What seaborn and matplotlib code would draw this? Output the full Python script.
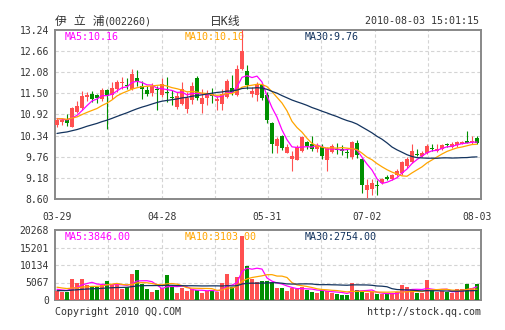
import numpy as np
import pandas as pd
import matplotlib
matplotlib.use("Agg")
import matplotlib.pyplot as plt
import seaborn as sns

# ---- daily bars, 2010-03-29 .. 2010-08-03 -------------------------------
open_ = [10.64, 10.71, 10.76, 10.59, 10.98, 11.10, 11.39, 11.48, 11.46, 11.35,
         11.60, 11.46, 11.62, 11.79, 11.74, 11.62, 11.92, 11.70, 11.58, 11.51,
         11.62, 11.46, 11.54, 11.40, 11.12, 11.20, 11.08, 11.31, 11.92, 11.22,
         11.37, 11.49, 11.28, 11.22, 11.40, 11.65, 11.45, 12.18, 12.11, 11.49,
         11.45, 11.72, 11.45, 10.69, 10.05, 10.34, 9.87, 9.71, 9.66, 9.93,
         10.16, 10.10, 9.98, 10.02, 9.66, 9.89, 9.96, 9.95, 9.87, 9.74,
         10.14, 9.69, 8.85, 8.88, 8.99, 9.03, 9.20, 9.15, 9.25, 9.32,
         9.50, 9.61, 9.84, 9.78, 9.87, 10.00, 9.91, 9.98, 10.11, 10.03,
         10.07, 10.12, 10.17, 10.16, 10.28]
high = [10.82, 10.82, 10.94, 11.12, 11.28, 11.56, 11.53, 11.57, 11.48, 11.65,
        11.62, 11.80, 11.88, 11.94, 11.92, 12.17, 12.13, 11.83, 11.69, 11.78,
        11.71, 11.91, 11.95, 11.58, 11.54, 11.80, 11.54, 11.80, 11.98, 11.63,
        11.58, 11.65, 11.43, 11.63, 11.89, 12.00, 12.29, 13.30, 12.29, 11.68,
        11.81, 11.77, 11.55, 10.71, 10.30, 10.37, 10.10, 9.92, 10.07, 10.33,
        10.18, 10.32, 10.14, 10.10, 10.02, 10.10, 10.14, 10.08, 9.96, 10.19,
        10.23, 9.73, 9.14, 9.14, 9.11, 9.18, 9.25, 9.30, 9.42, 9.64,
        9.74, 10.10, 9.97, 9.93, 10.10, 10.10, 10.10, 10.12, 10.14, 10.16,
        10.20, 10.20, 10.46, 10.34, 10.34]
low = [10.57, 10.64, 10.61, 10.57, 10.96, 11.03, 11.28, 11.25, 11.23, 11.28,
       10.52, 11.35, 11.53, 11.62, 11.62, 11.60, 11.69, 11.35, 11.42, 11.42,
       11.05, 11.40, 11.26, 11.17, 11.08, 11.17, 10.97, 11.22, 11.31, 10.97,
       11.19, 11.24, 11.03, 11.03, 11.37, 11.45, 11.43, 12.14, 11.63, 11.40,
       11.28, 11.31, 10.69, 9.87, 9.87, 9.94, 9.85, 9.36, 9.66, 9.90,
       9.98, 9.93, 9.89, 9.71, 9.37, 9.87, 9.83, 9.80, 9.73, 9.71,
       9.73, 8.76, 8.62, 8.72, 8.72, 9.00, 9.12, 9.12, 9.22, 9.27,
       9.46, 9.59, 9.78, 9.75, 9.84, 9.91, 9.89, 9.95, 10.04, 10.00,
       10.03, 10.10, 10.13, 10.12, 10.12]
close = [10.77, 10.77, 10.70, 11.10, 11.14, 11.42, 11.46, 11.34, 11.37, 11.60,
         11.42, 11.65, 11.80, 11.81, 11.71, 12.02, 11.83, 11.62, 11.49, 11.69,
         11.58, 11.76, 11.50, 11.37, 11.42, 11.63, 11.37, 11.69, 11.37, 11.37,
         11.49, 11.42, 11.34, 11.49, 11.83, 11.54, 12.18, 12.66, 11.72, 11.57,
         11.74, 11.37, 10.76, 10.10, 10.26, 9.99, 10.03, 9.78, 10.02, 10.30,
         10.06, 9.96, 10.07, 9.78, 10.00, 10.05, 9.95, 9.93, 9.86, 10.16,
         9.80, 8.99, 8.98, 9.05, 8.96, 9.16, 9.15, 9.27, 9.38, 9.61,
         9.70, 9.91, 9.81, 9.87, 10.05, 9.97, 9.98, 10.07, 10.09, 10.12,
         10.16, 10.16, 10.15, 10.20, 10.14]
volume = [2510, 2410, 2220, 6180, 4920, 6080, 4440, 3960, 3670, 4440,
          5600, 4440, 4340, 3180, 3670, 7620, 8690, 4630, 3280, 2320,
          2800, 3470, 7240, 3860, 2030, 3470, 2510, 3280, 2900, 1930,
          2700, 2990, 2320, 4920, 7620, 3670, 6660, 18430, 9750, 6080,
          5110, 5400, 5600, 5100, 3500, 3500, 2600, 3500, 3300, 3700,
          3000, 2300, 2100, 2900, 2600, 2100, 1800, 1500, 1500, 5000,
          3000, 2400, 1900, 2200, 1700, 1800, 1600, 1900, 2200, 4300,
          3800, 3100, 2100, 1900, 5790, 2800, 2200, 2700, 2200, 1900,
          3300, 3200, 4600, 3500, 4630]

# sessions before 03-29, used only to warm up the moving averages
prior_close = [10.08, 10.15, 10.10, 10.18, 10.12, 10.05, 10.16, 10.20, 10.14, 10.22,
               10.15, 10.20, 10.28, 10.24, 10.32, 10.26, 10.22, 10.30, 10.35, 10.28,
               10.72, 10.88, 10.75, 10.83, 10.77, 10.86, 10.80, 10.84, 10.78]
prior_volume = [1900, 2200, 1800, 2100, 2300, 1700, 2000, 2400, 1930, 2100,
                2500, 2200, 2600, 2100, 2400, 2300, 2700, 2170, 2400, 2200,
                4600, 3900, 4800, 4200, 4000, 3400, 2900, 3600, 3090]

date_labels = ["03-29", "04-28", "05-31", "07-02", "08-03"]
date_index = [0, 21, 42, 62, 84]
price_ticks = [8.60, 9.18, 9.76, 10.34, 10.92, 11.50, 12.08, 12.66, 13.24]
volume_ticks = [0, 5067, 10134, 15201, 20268]
ma_windows = [5, 10, 30]

# ---- derived series ------------------------------------------------------
n = len(close)
all_close = pd.Series(prior_close + close)
all_vol = pd.Series(prior_volume + volume)
df = pd.DataFrame({"idx": np.arange(n), "open": open_, "high": high,
                   "low": low, "close": close, "volume": volume})
for w in ma_windows:
    df[f"ma{w}"] = all_close.rolling(w, min_periods=1).mean().iloc[-n:].to_numpy()
    df[f"vma{w}"] = all_vol.rolling(w, min_periods=1).mean().iloc[-n:].to_numpy()

UP, DOWN = "#ff5050", "#009000"
MA_COLORS = {5: "#ff00ff", 10: "#ffa500", 30: "#13335e"}
GRID = "#d4d4d4"
FRAME = "#888888"
TEXT = "#333333"
MONO = ["DejaVu Sans Mono"]
CJK = ["DejaVu Sans Mono", "Noto Sans CJK SC"]

sns.set_style("white")
plt.rcParams["font.family"] = CJK

W, H = 505, 330
fig = plt.figure(figsize=(W / 100, H / 100), dpi=100)
ax = fig.add_axes([55 / W, (H - 199) / H, 426 / W, 169 / H])
axv = fig.add_axes([55 / W, (H - 300) / H, 426 / W, 70 / H])

x0, x1 = -0.4, 84.8
up = df["close"] >= df["open"]
colors = np.where(up, UP, DOWN)

for a in (ax, axv):
    a.set_xlim(x0, x1)
    a.set_facecolor("white")
    for s in a.spines.values():
        s.set_color(FRAME)
        s.set_linewidth(1.4)
        s.set_visible(True)
    for k in range(1, 8):
        a.axvline(x0 + k * (x1 - x0) / 8, color=GRID, lw=0.8,
                  ls=(0, (3, 2.2)), zorder=0)
    a.tick_params(length=0, labelsize=7, colors=TEXT, pad=4.5)

# ---- price panel -----------------------------------------------------------
ax.set_ylim(price_ticks[0], price_ticks[-1])
for t in price_ticks[1:-1]:
    ax.axhline(t, color=GRID, lw=0.8, ls=(0, (3, 2.2)), zorder=0)
ax.set_yticks(price_ticks, labels=[f"{t:.2f}" for t in price_ticks], family=MONO)

body_lo = np.minimum(df["open"], df["close"])
body_h = np.maximum((df["close"] - df["open"]).abs(), 0.03)
ax.vlines(df["idx"], df["low"], df["high"], colors=colors, lw=0.8, zorder=3)
ax.bar(df["idx"], body_h, bottom=body_lo, width=0.8, color=colors,
       linewidth=0, zorder=4)
for w in ma_windows:
    sns.lineplot(data=df, x="idx", y=f"ma{w}", ax=ax, color=MA_COLORS[w],
                 lw=0.9, legend=False, zorder=5)
ax.set_xlabel("")
ax.set_ylabel("")
ax.set_xticks(date_index, labels=date_labels, family=MONO)
ax.tick_params(axis="x", pad=9)

# ---- volume panel ---------------------------------------------------------
axv.set_ylim(volume_ticks[0], volume_ticks[-1])
for t in volume_ticks[1:-1]:
    axv.axhline(t, color=GRID, lw=0.8, ls=(0, (3, 2.2)), zorder=0)
axv.set_yticks(volume_ticks, labels=[str(t) for t in volume_ticks], family=MONO)
axv.bar(df["idx"], df["volume"], width=0.8, color=colors, linewidth=0, zorder=3)
for w in ma_windows:
    sns.lineplot(data=df, x="idx", y=f"vma{w}", ax=axv, color=MA_COLORS[w],
                 lw=0.9, legend=False, zorder=5)
axv.set_xticks([])
axv.set_xlabel("")
axv.set_ylabel("")

# ---- moving-average readouts ---------------------------------------------
def px(x, y):
    return x / W, 1 - y / H

for w, xp in zip(ma_windows, (65, 185, 305)):
    ax.text(*px(xp, 36.5), f"MA{w}:{df[f'ma{w}'].iloc[-1]:.2f}",
            transform=fig.transFigure, color=MA_COLORS[w], fontsize=7.2,
            family=MONO, va="center", ha="left", zorder=2)
    axv.text(*px(xp, 236.5), f"MA{w}:{df[f'vma{w}'].iloc[-1]:.2f}",
             transform=fig.transFigure, color=MA_COLORS[w], fontsize=7.2,
             family=MONO, va="center", ha="left", zorder=2)

# ---- header and footer ----------------------------------------------------
fig.text(*px(55, 21), "伊 立 浦", family=CJK, fontsize=8.5,
         color=TEXT, va="center", ha="left")
fig.text(*px(104, 21.5), "(002260)", family=MONO, fontsize=7.2,
         color=TEXT, va="center", ha="left")
fig.text(*px(225, 21), "日K线", family=CJK, fontsize=8.5, color=TEXT,
         va="center", ha="center")
fig.text(*px(479, 21.5), "2010-08-03 15:01:15", family=MONO, fontsize=7.2,
         color=TEXT, va="center", ha="right")
fig.text(*px(55, 312), "Copyright 2010 QQ.COM", family=MONO, fontsize=7.2,
         color=TEXT, va="center", ha="left")
fig.text(*px(481, 312), "http://stock.qq.com", family=MONO, fontsize=7.2,
         color=TEXT, va="center", ha="right")

fig.savefig("out.png", dpi=100, facecolor="white")
